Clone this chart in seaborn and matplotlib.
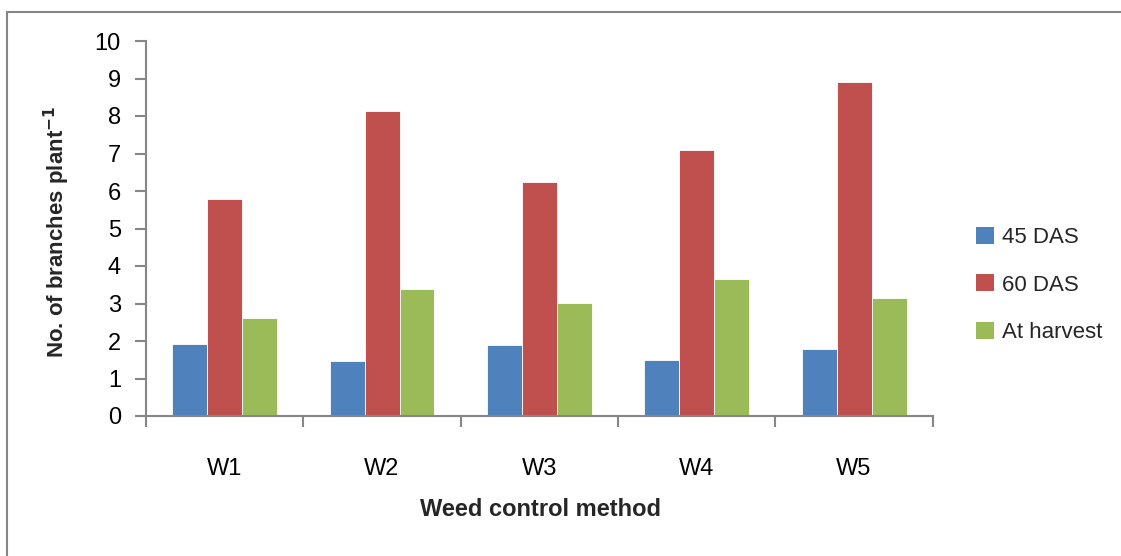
import matplotlib
matplotlib.use("Agg")
import matplotlib.pyplot as plt
import matplotlib.patches as mpatches
from matplotlib.ticker import FixedLocator
import seaborn as sns
import pandas as pd

methods = ["W1", "W2", "W3", "W4", "W5"]
series = ["45 DAS", "60 DAS", "At harvest"]
das45 = [1.92, 1.48, 1.89, 1.50, 1.80]
das60 = [5.79, 8.13, 6.23, 7.09, 8.90]
harvest = [2.62, 3.38, 3.02, 3.66, 3.15]
yticks = [0, 1, 2, 3, 4, 5, 6, 7, 8, 9, 10]

colors = ["#4F81BD", "#C0504D", "#9BBB59"]
axis_gray = "#868686"

df = pd.DataFrame({
    "method": methods * 3,
    "stage": [s for s in series for _ in methods],
    "value": das45 + das60 + harvest,
})

sns.set_theme(style="white")
plt.rcParams["font.family"] = ["Liberation Sans", "DejaVu Sans"]
plt.rcParams["axes.unicode_minus"] = False

fig = plt.figure(figsize=(11.21, 5.56), dpi=100)
ax = fig.add_axes([146 / 1121, 1 - 416 / 556, (932.7 - 146) / 1121, (416 - 41) / 556])

sns.barplot(data=df, x="method", y="value", hue="stage", order=methods,
            hue_order=series, palette=colors, width=0.667, gap=0,
            linewidth=0.6, edgecolor="white", saturation=1, ax=ax)

ax.set_ylim(0, 10)
ax.set_xlim(-0.5, len(methods) - 0.5)
ax.set_yticks(yticks)
ax.set_yticklabels([str(t) for t in yticks], fontsize=17)
ax.set_xticks(range(len(methods)))
ax.set_xticklabels(methods, fontsize=17)
ax.xaxis.set_minor_locator(FixedLocator([i - 0.5 for i in range(len(methods) + 1)]))
ax.tick_params(axis="x", which="major", bottom=True, length=0, pad=30, labelcolor="black")
ax.tick_params(axis="x", which="minor", bottom=True, length=8, width=1.5,
               color=axis_gray, direction="out")
ax.tick_params(axis="y", which="major", left=True, length=8, width=1.5,
               color=axis_gray, direction="out", pad=10, labelcolor="black")

for side in ["top", "right"]:
    ax.spines[side].set_visible(False)
for side in ["left", "bottom"]:
    ax.spines[side].set_color(axis_gray)
    ax.spines[side].set_linewidth(1.5)

ax.set_xlabel("")
ax.set_ylabel("")
fig.text(57 / 1121, 1 - 232 / 556, r"No. of branches plant$^{\mathbf{-1}}$",
         rotation=90, fontsize=16, fontweight="bold", ha="center", va="center")
fig.text(540 / 1121, 1 - 510 / 556, "Weed control method",
         fontsize=17, fontweight="bold", ha="center", va="center")

handles = [mpatches.Patch(facecolor=c, edgecolor="none") for c in colors]
ax.legend(handles, series, loc="center left", bbox_to_anchor=(976 / 1121, 1 - 285 / 556),
          bbox_transform=fig.transFigure, frameon=False, fontsize=16,
          handlelength=0.8, handleheight=0.8, handletextpad=0.35, labelspacing=1.2,
          borderaxespad=0, borderpad=0)

# chart frame (top and left edges visible)
frame = mpatches.Rectangle((7 / 1121, -0.1), 1.2, 1 - 12 / 556 + 0.1,
                           transform=fig.transFigure, fill=False,
                           edgecolor=axis_gray, linewidth=1.5)
fig.patches.append(frame)

fig.savefig("out.png", dpi=100)
